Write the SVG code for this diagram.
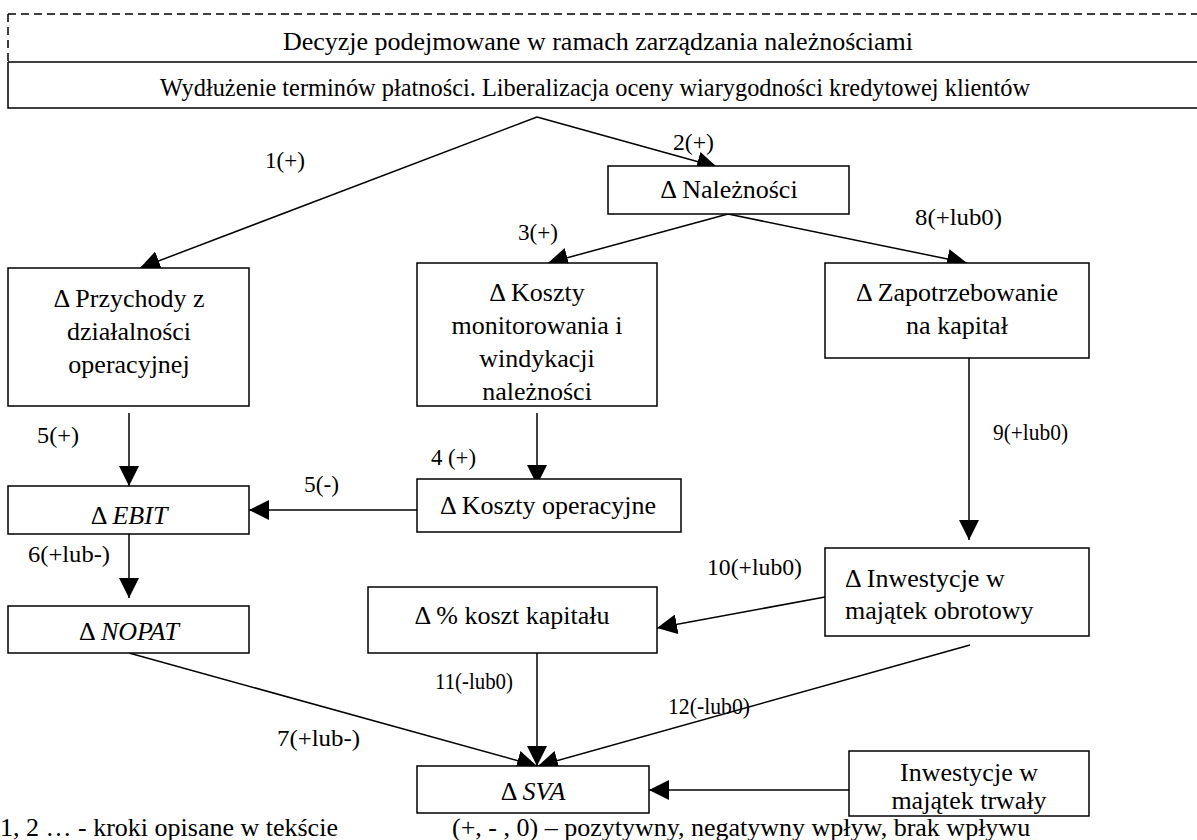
<svg xmlns="http://www.w3.org/2000/svg" width="1197" height="840" viewBox="0 0 1197 840">
  <style>
    text { font-family: "Liberation Serif", "Times New Roman", serif; font-size: 26px; fill: #000; }
    .c { text-anchor: middle; }
    .lbl { font-size: 24px; }
    .box { fill: #fff; stroke: #000; stroke-width: 1.5; }
    .edge { fill: none; stroke: #000; stroke-width: 1.5; marker-end: url(#arrow); }
  </style>
  <defs>
    <marker id="arrow" markerUnits="userSpaceOnUse" markerWidth="20" markerHeight="20" refX="20" refY="10" orient="auto" viewBox="0 0 20 20">
      <path d="M0,0 L20,10 L0,20 z" fill="#000"/>
    </marker>
  </defs>
  <rect width="1197" height="840" fill="#fff"/>

  <!-- header -->
  <g id="header">
    <path d="M8,14 H1197 M8,14 V62" fill="none" stroke="#000" stroke-width="1.5" stroke-dasharray="8 5"/>
    <text class="c" x="598" y="50">Decyzje podejmowane w ramach zarządzania należnościami</text>
    <path d="M8,62 H1197 M8,62 V108 H1197" fill="none" stroke="#000" stroke-width="1.5"/>
    <text x="160" y="96" textLength="870" lengthAdjust="spacingAndGlyphs">Wydłużenie terminów płatności. Liberalizacja oceny wiarygodności kredytowej klientów</text>
  </g>

  <!-- connectors -->
  <g id="connectors">
    <line class="edge" x1="537" y1="117" x2="140" y2="268"/>
    <line class="edge" x1="537" y1="117" x2="717" y2="167"/>
    <line class="edge" x1="728" y1="214" x2="548" y2="263"/>
    <line class="edge" x1="728" y1="214" x2="967" y2="263"/>
    <line class="edge" x1="969" y1="358" x2="969" y2="540"/>
    <line class="edge" x1="129" y1="413" x2="129" y2="486"/>
    <line class="edge" x1="537" y1="413" x2="537" y2="485"/>
    <line class="edge" x1="417" y1="510" x2="249" y2="510"/>
    <line class="edge" x1="129" y1="534" x2="129" y2="598"/>
    <line class="edge" x1="825" y1="597" x2="657" y2="628"/>
    <line class="edge" x1="537" y1="653" x2="537" y2="766"/>
    <line class="edge" x1="129" y1="653" x2="537" y2="766"/>
    <line class="edge" x1="970" y1="645" x2="538" y2="766"/>
    <line class="edge" x1="849" y1="790" x2="649" y2="790"/>

    <text class="lbl" x="265" y="168" textLength="40" lengthAdjust="spacingAndGlyphs">1(+)</text>
    <text class="lbl" x="673" y="150" textLength="41" lengthAdjust="spacingAndGlyphs">2(+)</text>
    <text class="lbl" x="518" y="240" textLength="40" lengthAdjust="spacingAndGlyphs">3(+)</text>
    <text class="lbl" x="915" y="225" textLength="87" lengthAdjust="spacingAndGlyphs">8(+lub0)</text>
    <text class="lbl" x="993" y="440" font-size="20" textLength="75" lengthAdjust="spacingAndGlyphs">9(+lub0)</text>
    <text class="lbl" x="37" y="443" textLength="42" lengthAdjust="spacingAndGlyphs">5(+)</text>
    <text class="lbl" x="431" y="465" textLength="45" lengthAdjust="spacingAndGlyphs">4 (+)</text>
    <text class="lbl" x="304" y="492" textLength="35" lengthAdjust="spacingAndGlyphs">5(-)</text>
    <text class="lbl" x="28" y="562" textLength="82" lengthAdjust="spacingAndGlyphs">6(+lub-)</text>
    <text class="lbl" x="707" y="575" textLength="95" lengthAdjust="spacingAndGlyphs">10(+lub0)</text>
    <text class="lbl" x="435" y="689" textLength="78" lengthAdjust="spacingAndGlyphs">11(-lub0)</text>
    <text class="lbl" x="277" y="746" textLength="83" lengthAdjust="spacingAndGlyphs">7(+lub-)</text>
    <text class="lbl" x="668" y="714" textLength="82" lengthAdjust="spacingAndGlyphs">12(-lub0)</text>
  </g>

  <!-- nodes -->
  <g id="naleznosci">
    <rect class="box" x="608" y="166" width="241" height="48"/>
    <text class="c" x="729" y="198">Δ Należności</text>
  </g>
  <g id="przychody">
    <rect class="box" x="8" y="268" width="241" height="138"/>
    <text class="c" x="129" y="307">Δ Przychody z</text>
    <text class="c" x="129" y="340">działalności</text>
    <text class="c" x="129" y="373">operacyjnej</text>
  </g>
  <g id="koszty-monitorowania">
    <rect class="box" x="417" y="263" width="240" height="143"/>
    <text class="c" x="537" y="301">Δ Koszty</text>
    <text class="c" x="537" y="334">monitorowania i</text>
    <text class="c" x="537" y="367">windykacji</text>
    <text class="c" x="537" y="400">należności</text>
  </g>
  <g id="zapotrzebowanie">
    <rect class="box" x="825" y="263" width="264" height="95"/>
    <text class="c" x="957" y="301">Δ Zapotrzebowanie</text>
    <text class="c" x="957" y="334">na kapitał</text>
  </g>
  <g id="ebit">
    <rect class="box" x="8" y="486" width="241" height="48"/>
    <text class="c" x="129" y="524">Δ <tspan font-style="italic">EBIT</tspan></text>
  </g>
  <g id="koszty-operacyjne">
    <rect class="box" x="417" y="479" width="264" height="53"/>
    <text class="c" x="548" y="514">Δ Koszty operacyjne</text>
  </g>
  <g id="nopat">
    <rect class="box" x="8" y="606" width="241" height="47"/>
    <text class="c" x="129" y="640">Δ <tspan font-style="italic">NOPAT</tspan></text>
  </g>
  <g id="koszt-kapitalu">
    <rect class="box" x="368" y="587" width="289" height="66"/>
    <text class="c" x="512" y="624">Δ % koszt kapitału</text>
  </g>
  <g id="inwestycje-obrotowy">
    <rect class="box" x="825" y="548" width="264" height="88"/>
    <text x="845" y="587">Δ Inwestycje w</text>
    <text x="845" y="619">majątek obrotowy</text>
  </g>
  <g id="sva">
    <rect class="box" x="417" y="766" width="232" height="47"/>
    <text class="c" x="533" y="800">Δ <tspan font-style="italic">SVA</tspan></text>
  </g>
  <g id="inwestycje-trwaly">
    <rect class="box" x="849" y="751" width="240" height="65"/>
    <text class="c" x="969" y="781">Inwestycje w</text>
    <text class="c" x="969" y="809">majątek trwały</text>
  </g>

  <!-- legend -->
  <g id="legend">
    <text x="0" y="836">1, 2 … - kroki opisane w tekście</text>
    <text x="452" y="836">(+, - , 0) – pozytywny, negatywny wpływ, brak wpływu</text>
  </g>
</svg>
